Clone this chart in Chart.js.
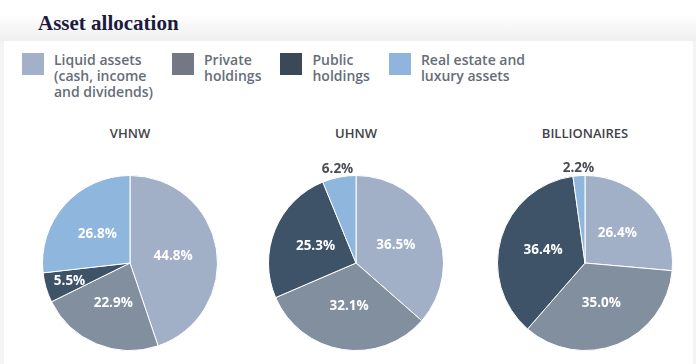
<!DOCTYPE html>
<html>
<head>
<meta charset="utf-8">
<script src="https://cdn.jsdelivr.net/npm/chart.js@4.4.1/dist/chart.umd.min.js"></script>
<style>
    html, body {
        margin: 0;
        padding: 0;
        width: 696px;
        height: 364px;
        overflow: hidden;
        background: #f4f4f4;
        font-family: "Open Sans", sans-serif;
    }
    #top {
        position: absolute;
        left: 0; top: 0;
        width: 696px; height: 41px;
        background: linear-gradient(#ffffff 0%, #ffffff 35%, #efefef 100%);
    }
    #title {
        position: absolute;
        left: 38px; top: 11px;
        font-family: "Liberation Serif", serif;
        font-weight: bold;
        font-size: 21px;
        line-height: 24px;
        color: #1c1a3d;
    }
    #card {
        position: absolute;
        left: 4px; top: 41px;
        width: 689px; height: 330px;
        background: #ffffff;
    }
    #legend {
        position: absolute;
        left: 22px; top: 53px;
        display: flex;
    }
    .item { display: flex; margin-right: 19px; }
    .swatch { width: 22px; height: 22px; margin-right: 10px; }
    .text {
        font-size: 14px;
        font-weight: 600;
        line-height: 16px;
        color: #666d79;
        margin-top: -1px;
    }
    .pieTitle {
        position: absolute;
        width: 200px;
        top: 124px;
        text-align: center;
        font-size: 13px;
        font-weight: 600;
        color: #3f4247;
    }
    canvas { position: absolute; top: 110px; }
</style>
</head>
<body>
<div id="top"></div>
<div id="title">Asset allocation</div>
<div id="card"></div>
<div id="legend"></div>

<div class="pieTitle" style="left:30px">VHNW</div>
<div class="pieTitle" style="left:256px">UHNW</div>
<div class="pieTitle" style="left:485px">BILLIONAIRES</div>

<canvas id="vhnwPie" width="210" height="250" style="left:25px"></canvas>
<canvas id="uhnwPie" width="210" height="250" style="left:251px"></canvas>
<canvas id="billPie" width="210" height="250" style="left:480px"></canvas>

<script>
// --------------------------------------------------
//  DATA
// --------------------------------------------------
const categories = [
    ["Liquid assets", "(cash, income", "and dividends)"],
    ["Private", "holdings"],
    ["Public", "holdings"],
    ["Real estate and", "luxury assets"]
];

const vhnwShares = [44.8, 22.9, 5.5, 26.8];
const uhnwShares = [36.5, 32.1, 25.3, 6.2];
const billionaireShares = [26.4, 35.0, 36.4, 2.2];

const sliceColors = ["#a1afc7", "#828f9e", "#3e5268", "#8fb6dd"];
const legendColors = ["#a3b0c8", "#737884", "#3b4858", "#8fb5dd"];

// --------------------------------------------------
//  LEGEND (shared by the three pies)
// --------------------------------------------------
const legend = document.getElementById("legend");
categories.forEach((lines, i) => {
    const item = document.createElement("div");
    item.className = "item";
    const sw = document.createElement("div");
    sw.className = "swatch";
    sw.style.background = legendColors[i];
    const txt = document.createElement("div");
    txt.className = "text";
    txt.innerHTML = lines.join("<br>");
    item.appendChild(sw);
    item.appendChild(txt);
    legend.appendChild(item);
});

// --------------------------------------------------
//  PERCENT LABELS PLUGIN
// --------------------------------------------------
const sliceLabels = {
    id: "sliceLabels",
    afterDatasetsDraw(chart) {
        const ctx = chart.ctx;
        const values = chart.data.datasets[0].data;
        const meta = chart.getDatasetMeta(0);
        ctx.save();
        ctx.font = "bold 13.5px 'Open Sans'";
        ctx.textAlign = "center";
        ctx.textBaseline = "middle";
        meta.data.forEach((arc, i) => {
            const p = arc.getProps(["x", "y", "startAngle", "endAngle", "outerRadius"], true);
            const mid = (p.startAngle + p.endAngle) / 2;
            let r = p.outerRadius * 0.5;
            ctx.fillStyle = "#ffffff";
            if (values[i] < 7) {
                if (Math.abs(Math.cos(mid)) < 0.5) {
                    r = p.outerRadius + 8;          // no room: put it outside
                    ctx.fillStyle = "#4b4e54";
                } else {
                    r = p.outerRadius * 0.72;
                }
            }
            const label = values[i].toFixed(1) + "%";
            ctx.fillText(label, p.x + Math.cos(mid) * r, p.y + Math.sin(mid) * r);
        });
        ctx.restore();
    }
};

// --------------------------------------------------
//  PIES
// --------------------------------------------------
function createPie(id, shares) {
    return new Chart(document.getElementById(id), {
        type: "pie",
        data: {
            labels: categories,
            datasets: [{
                data: shares,
                backgroundColor: sliceColors,
                borderColor: "#ffffff",
                borderWidth: 1,
                hoverOffset: 0
            }]
        },
        options: {
            responsive: false,
            animation: false,
            layout: { padding: { top: 65, bottom: 9, left: 17, right: 17 } },
            plugins: {
                legend: { display: false },
                tooltip: { enabled: false }
            }
        },
        plugins: [sliceLabels]
    });
}

createPie("vhnwPie", vhnwShares);
createPie("uhnwPie", uhnwShares);
createPie("billPie", billionaireShares);
</script>
</body>
</html>
